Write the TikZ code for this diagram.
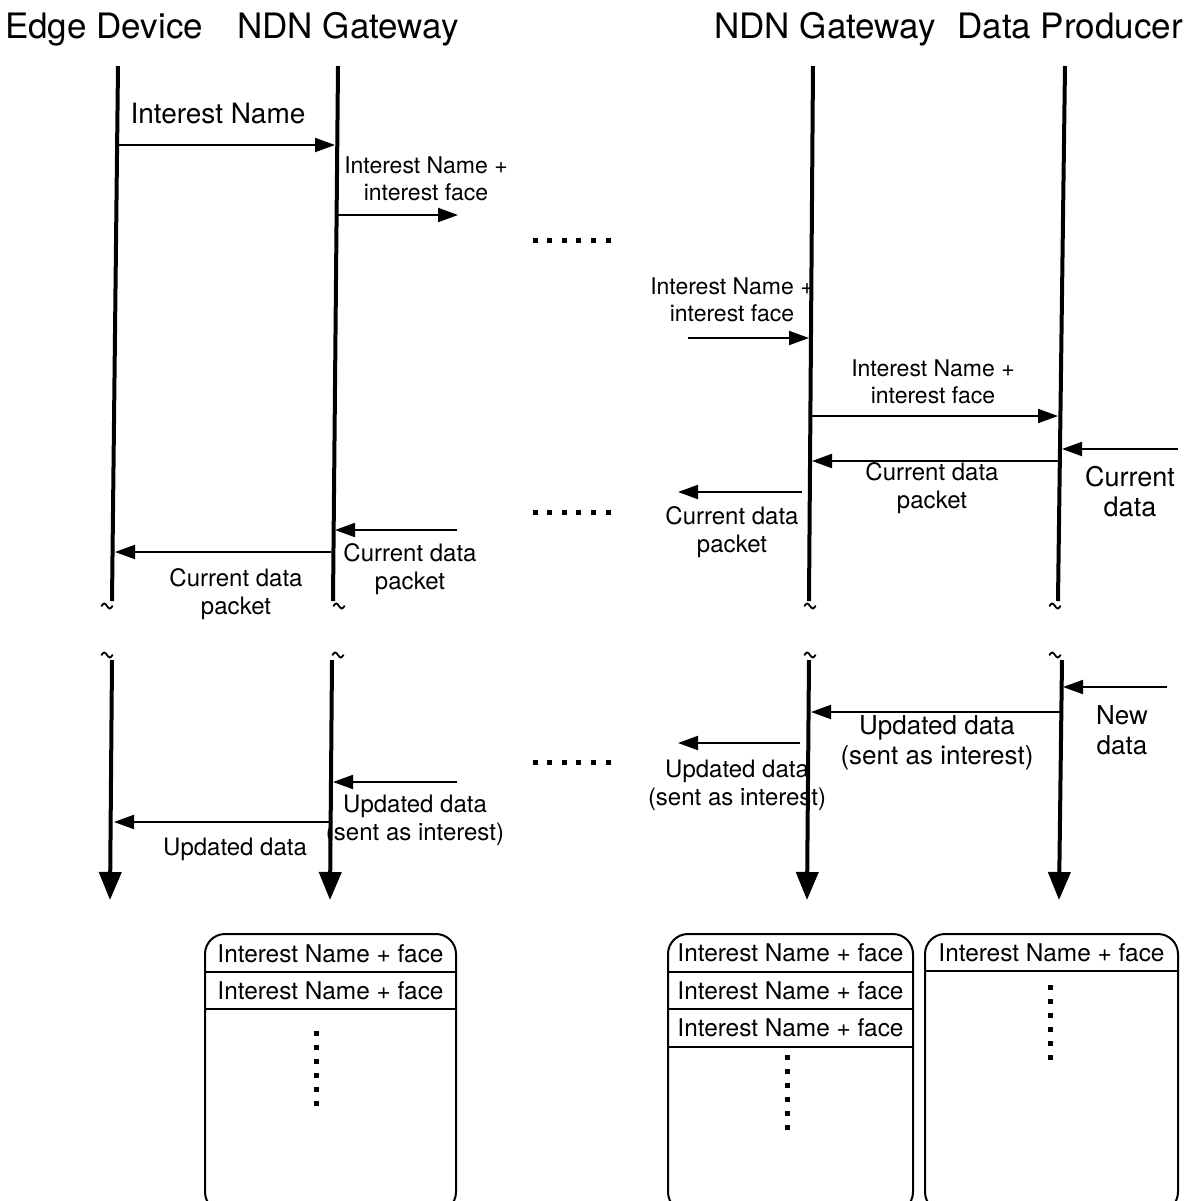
\documentclass[tikz,border=0pt]{standalone}
\usepackage{fontspec}
\setmainfont{TeX Gyre Heros}
\usetikzlibrary{arrows.meta}
\begin{document}
\begin{tikzpicture}[x=0.5pt,y=-0.5pt,
  lifeline/.style={line width=2pt},
  lifearrow/.style={line width=2pt,-{Triangle[length=14pt,width=11pt]}},
  msg/.style={line width=1pt,-{Triangle[length=10pt,width=7pt]}},
  header/.style={font=\fontsize{17.5pt}{20pt}\selectfont,inner sep=0pt,anchor=base},
  lbl/.style={font=\fontsize{12pt}{14pt}\selectfont,align=center,inner sep=0pt},
  lblbig/.style={font=\fontsize{13pt}{15pt}\selectfont,align=center,inner sep=0pt},
  lblsmall/.style={font=\fontsize{11.5pt}{13.5pt}\selectfont,align=center,inner sep=0pt},
  tablebox/.style={line width=1pt,rounded corners=10pt},
  rowline/.style={line width=1pt},
  rowtext/.style={font=\fontsize{12.2pt}{14pt}\selectfont,inner sep=0pt},
  brkmark/.pic={\draw[line width=0.9pt,line cap=round]
      (-5.5,0) sin (-2.75,-2.5) cos (0,0) sin (2.75,2.5) cos (5.5,0);},
]
\useasboundingbox (0,0) rectangle (1199,1201);

% ---- participants ----
\node[header] (hEdge) at (104,38) {Edge Device};
\node[header] (hGw1) at (348,38) {NDN Gateway};
\node[header] (hGw2) at (825,38) {NDN Gateway};
\node[header] (hProd) at (1070,38) {Data Producer};

% ---- lifelines, upper part ----
\coordinate (eT) at (118,66);   \coordinate (eB) at (112,601);
\coordinate (gT) at (338,66);   \coordinate (gB) at (333,601);
\coordinate (hT) at (813,66);   \coordinate (hB) at (809,601);
\coordinate (pT) at (1065,66);  \coordinate (pB) at (1058,601);
\draw[lifeline] (eT) -- (eB);
\draw[lifeline] (gT) -- (gB);
\draw[lifeline] (hT) -- (hB);
\draw[lifeline] (pT) -- (pB);

% ---- time breaks ----
\coordinate (bE1) at (107,606);  \coordinate (bE2) at (107,655);
\coordinate (bG1) at (339,606);  \coordinate (bG2) at (338,655);
\coordinate (bH1) at (810,606);  \coordinate (bH2) at (810,655);
\coordinate (bP1) at (1055,606); \coordinate (bP2) at (1055,655);
\foreach \b in {bE1,bE2,bG1,bG2,bH1,bH2,bP1,bP2}
  \pic at (\b) {brkmark};

% ---- lifelines, lower part ----
\coordinate (eT2) at (112,660);  \coordinate (eB2) at (110,900);
\coordinate (gT2) at (332,660);  \coordinate (gB2) at (330,900);
\coordinate (hT2) at (809,660);  \coordinate (hB2) at (807,900);
\coordinate (pT2) at (1062,660); \coordinate (pB2) at (1059,900);
\draw[lifearrow] (eT2) -- (eB2);
\draw[lifearrow] (gT2) -- (gB2);
\draw[lifearrow] (hT2) -- (hB2);
\draw[lifearrow] (pT2) -- (pB2);

% ---- interest forwarding ----
\coordinate (m1a) at (117,145);  \coordinate (m1b) at (335,145);
\draw[msg] (m1a) -- (m1b);
\node[font=\fontsize{14pt}{16pt}\selectfont,inner sep=0pt] (l1) at (218,113) {Interest Name};

\coordinate (m2a) at (337,215);  \coordinate (m2b) at (458,215);
\draw[msg] (m2a) -- (m2b);
\node[lblsmall] (l2) at (426,179) {Interest Name +\\interest face};

\coordinate (m3a) at (688,338);  \coordinate (m3b) at (809,338);
\draw[msg] (m3a) -- (m3b);
\node[lblsmall] (l3) at (732,300) {Interest Name +\\interest face};

\coordinate (m4a) at (810,416);  \coordinate (m4b) at (1058,416);
\draw[msg] (m4a) -- (m4b);
\node[lblsmall] (l4) at (933,382) {Interest Name +\\interest face};

% ---- current data returned ----
\coordinate (m5a) at (1178,449); \coordinate (m5b) at (1062,449);
\draw[msg] (m5a) -- (m5b);
\node[font=\fontsize{13.5pt}{15pt}\selectfont,align=center,inner sep=0pt] (l5) at (1130,492) {Current\\data};

\coordinate (m6a) at (1058,461); \coordinate (m6b) at (812,461);
\draw[msg] (m6a) -- (m6b);
\node[lbl] (l6) at (932,488) {Current data\\packet};

\coordinate (m7a) at (802,492);  \coordinate (m7b) at (678,492);
\draw[msg] (m7a) -- (m7b);
\node[lbl] (l7) at (732,532) {Current data\\packet};

\coordinate (m8a) at (457,530);  \coordinate (m8b) at (335,530);
\draw[msg] (m8a) -- (m8b);
\node[lbl] (l8) at (410,569) {Current data\\packet};

\coordinate (m9a) at (331,552);  \coordinate (m9b) at (115,552);
\draw[msg] (m9a) -- (m9b);
\node[lbl] (l9) at (236,594) {Current data\\packet};

% ---- updated data pushed ----
\coordinate (n1a) at (1167,687); \coordinate (n1b) at (1063,687);
\draw[msg] (n1a) -- (n1b);
\node[lblbig] (k1) at (1122,730) {New\\data};

\coordinate (n2a) at (1060,712); \coordinate (n2b) at (811,712);
\draw[msg] (n2a) -- (n2b);
\node[lblbig] (k2) at (937,743) {Updated data\\(sent as interest)};

\coordinate (n3a) at (800,743);  \coordinate (n3b) at (678,743);
\draw[msg] (n3a) -- (n3b);
\node[lbl] (k3) at (737,785) {Updated data\\(sent as interest)};

\coordinate (n4a) at (457,782);  \coordinate (n4b) at (333,782);
\draw[msg] (n4a) -- (n4b);
\node[lbl] (k4) at (415,820) {Updated data\\(sent as interest)};

\coordinate (n5a) at (329,822);  \coordinate (n5b) at (114,822);
\draw[msg] (n5a) -- (n5b);
\node[lbl] (k5) at (235,849) {Updated data};

% ---- elided hops ----
\foreach \yy in {240,512,762}
  \foreach \k in {0,...,5}
    \fill (535+\k*14.6-2.5,\yy-2.5) rectangle ++(5,5);

% ---- forwarding tables ----
\draw[tablebox] (205,934) rectangle (456,1212);
\draw[rowline] (205,972) -- (456,972);
\draw[rowline] (205,1009) -- (456,1009);
\node[rowtext] (ta1) at (330.5,954) {Interest Name + face};
\node[rowtext] (ta2) at (330.5,991) {Interest Name + face};
\foreach \k in {0,...,5}
  \fill (316-2.5,1033+\k*14-2.5) rectangle ++(5,5);

\draw[tablebox] (668,934) rectangle (913,1212);
\draw[rowline] (668,972) -- (913,972);
\draw[rowline] (668,1009) -- (913,1009);
\draw[rowline] (668,1047) -- (913,1047);
\node[rowtext] (tb1) at (790.5,953) {Interest Name + face};
\node[rowtext] (tb2) at (790.5,991) {Interest Name + face};
\node[rowtext] (tb3) at (790.5,1028) {Interest Name + face};
\foreach \k in {0,...,5}
  \fill (787-2.5,1057+\k*14-2.5) rectangle ++(5,5);

\draw[tablebox] (925,934) rectangle (1178,1212);
\draw[rowline] (925,971) -- (1178,971);
\node[rowtext] (tc1) at (1051.5,953) {Interest Name + face};
\foreach \k in {0,...,5}
  \fill (1050-2.5,987+\k*14-2.5) rectangle ++(5,5);
\end{tikzpicture}
\end{document}
